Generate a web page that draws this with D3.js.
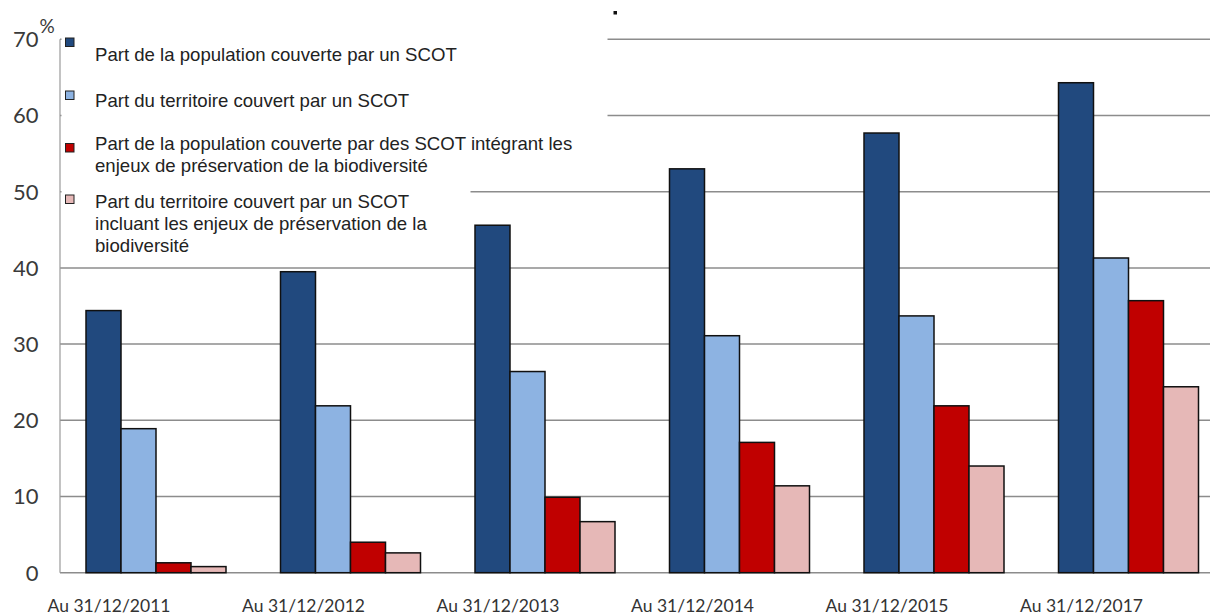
<!DOCTYPE html>
<html>
<head>
<meta charset="utf-8">
<script src="https://cdn.jsdelivr.net/npm/d3@7/dist/d3.min.js"></script>
<style>
  html, body { margin: 0; padding: 0; background: #fff; }
  svg { display: block; }
</style>
</head>
<body>
<svg id="chart" width="1210" height="616"></svg>
<script>
// Couverture du territoire par les SCOT (en %)
const categories = ["Au 31/12/2011", "Au 31/12/2012", "Au 31/12/2013", "Au 31/12/2014", "Au 31/12/2015", "Au 31/12/2017"];
const seriesNames = [
  ["Part de la population couverte par un SCOT"],
  ["Part du territoire couvert par un SCOT"],
  ["Part de la population couverte par des SCOT intégrant les", "enjeux de préservation de la biodiversité"],
  ["Part du territoire couvert par un SCOT", "incluant les enjeux de préservation de la", "biodiversité"]
];
const popScot    = [34.4, 39.5, 45.6, 53.0, 57.7, 64.3];
const terrScot   = [18.9, 21.9, 26.4, 31.1, 33.7, 41.3];
const popBiodiv  = [1.3, 4.0, 9.9, 17.1, 21.9, 35.7];
const terrBiodiv = [0.8, 2.6, 6.7, 11.4, 14.0, 24.4];
const yTicks = [0, 10, 20, 30, 40, 50, 60, 70];

const seriesValues = [popScot, terrScot, popBiodiv, terrBiodiv];
const colors = ["#21497e", "#8db3e2", "#c00000", "#e6b8b7"];

const svg = d3.select("#chart");

const x = d3.scaleBand()
  .domain(categories)
  .range([58.75, 1225.75])
  .paddingInner(54.5 / 194.5)
  .paddingOuter(27.25 / 194.5);

const xs = d3.scaleBand()
  .domain(d3.range(seriesValues.length))
  .range([0, x.bandwidth()]);

const y = d3.scaleLinear().domain([0, 70]).range([572.7, 39.3]);

// horizontal gridlines
svg.append("g")
  .selectAll("line")
  .data(yTicks)
  .join("line")
  .attr("x1", 60).attr("x2", 1210)
  .attr("y1", d => y(d)).attr("y2", d => y(d))
  .attr("stroke", "#8c8c8c")
  .attr("stroke-width", 1.5);

// vertical axis line
svg.append("line")
  .attr("x1", 60).attr("x2", 60)
  .attr("y1", y(70)).attr("y2", y(0))
  .attr("stroke", "#9a9a9a")
  .attr("stroke-width", 1.2);

// legend background
svg.append("rect").attr("x", 61.5).attr("y", 28).attr("width", 546).attr("height", 150).attr("fill", "#fff");
svg.append("rect").attr("x", 61.5).attr("y", 170).attr("width", 409).attr("height", 92).attr("fill", "#fff");

// y tick labels
svg.append("g")
  .selectAll("text")
  .data(yTicks)
  .join("text")
  .attr("x", 38.5)
  .attr("y", d => y(d))
  .attr("dy", "0.36em")
  .attr("text-anchor", "end")
  .attr("font-family", "Lato, sans-serif")
  .attr("font-size", 22)
  .attr("fill", "#3a3a3a")
  .text(d => d);

svg.append("text")
  .attr("x", 39.5).attr("y", 33)
  .attr("font-family", "Lato, sans-serif")
  .attr("font-size", 19)
  .attr("fill", "#3a3a3a")
  .text("%");

// bars
const groups = svg.append("g")
  .selectAll("g")
  .data(categories)
  .join("g")
  .attr("transform", d => `translate(${x(d)},0)`);

groups.selectAll("rect")
  .data((d, i) => seriesValues.map((vals, s) => ({ s, v: vals[i] })))
  .join("rect")
  .attr("x", d => xs(d.s))
  .attr("width", xs.bandwidth())
  .attr("y", d => y(d.v))
  .attr("height", d => y(0) - y(d.v))
  .attr("fill", d => colors[d.s])
  .attr("stroke", "#101010")
  .attr("stroke-width", 1.5);

// category axis
const xAxis = svg.append("g")
  .attr("transform", `translate(0,${y(0)})`)
  .call(d3.axisBottom(x).tickSize(0).tickPadding(0));
xAxis.select(".domain").remove();
xAxis.selectAll("text")
  .attr("x", -47)
  .attr("y", 39)
  .attr("dy", 0)
  .attr("font-family", "Lato, sans-serif")
  .attr("font-size", 17.5)
  .attr("fill", "#333");

// legend
const legendRows = [
  { sq: 38, base: 60.5 },
  { sq: 91, base: 107 },
  { sq: 143.5, base: 150 },
  { sq: 195, base: 208 }
];
const legend = svg.append("g");
legendRows.forEach((row, i) => {
  legend.append("rect")
    .attr("x", 65.5).attr("y", row.sq)
    .attr("width", 8.5).attr("height", 8.5)
    .attr("fill", colors[i])
    .attr("stroke", "#222")
    .attr("stroke-width", 1);
  const t = legend.append("text")
    .attr("font-family", "'Liberation Sans', Arial, sans-serif")
    .attr("font-size", 18.6)
    .attr("fill", "#222");
  seriesNames[i].forEach((line, k) => {
    t.append("tspan").attr("x", 95).attr("y", row.base + k * 22).text(line);
  });
});

// small mark above the plot
svg.append("rect")
  .attr("x", 613.5).attr("y", 11).attr("width", 3.5).attr("height", 3.5)
  .attr("fill", "#111");
</script>
</body>
</html>
